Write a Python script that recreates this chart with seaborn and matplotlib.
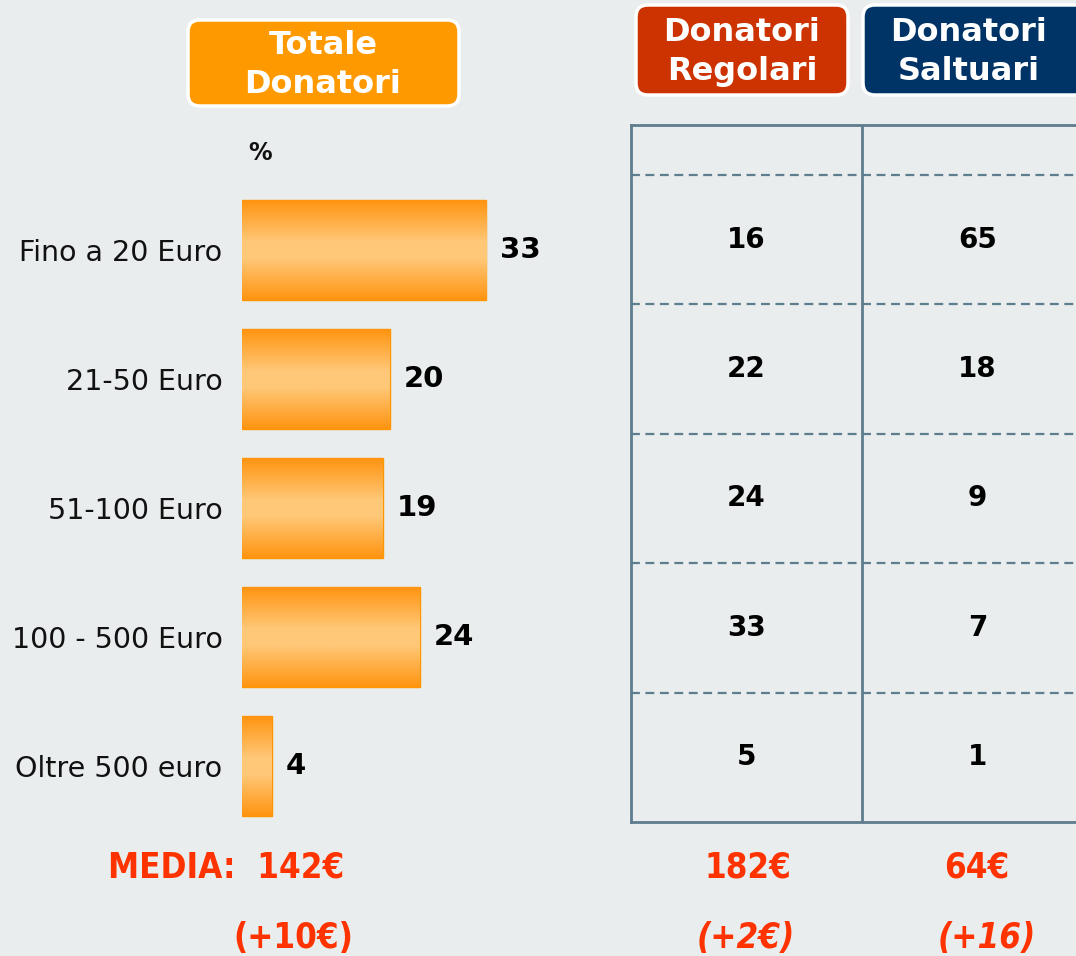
import matplotlib
matplotlib.use("Agg")
import matplotlib.pyplot as plt
import numpy as np
import pandas as pd
import seaborn as sns
from matplotlib.colors import LinearSegmentedColormap, ListedColormap
from matplotlib.patches import FancyBboxPatch

# ---------------- data ----------------
categories = ["Fino a 20 Euro", "21-50 Euro", "51-100 Euro", "100 - 500 Euro", "Oltre 500 euro"]
totale = [33, 20, 19, 24, 4]
regolari = [16, 22, 24, 33, 5]
saltuari = [65, 18, 9, 7, 1]
group_titles = ["Totale\nDonatori", "Donatori\nRegolari", "Donatori\nSaltuari"]
media_labels = ["MEDIA:  142€", "182€", "64€"]
delta_labels = ["(+10€)", "(+2€)", "(+16)"]

# ---------------- style ----------------
BG = "#E9EDED"
LINE = "#5E7D8E"
RED_TXT = "#FF3300"
sns.set_theme(style="white")
plt.rcParams["font.family"] = ["DejaVu Sans"]

W, H = 1076, 956
fig = plt.figure(figsize=(W / 100, H / 100), dpi=100, facecolor=BG)

def fx(px):
    return px / W

def fy(py):
    return 1 - py / H

# overlay axes in pixel coordinates
ov = fig.add_axes([0, 0, 1, 1], zorder=0)
ov.set_xlim(0, W)
ov.set_ylim(H, 0)
ov.axis("off")
ov.patch.set_alpha(0)

# ---------------- bar chart ----------------
px_per_unit = 7.4
ax_left, ax_right = 242, 620
top_c, bot_c = 250, 766
step = (bot_c - top_c) / 4
ax_top, ax_bot = top_c - step / 2, bot_c + step / 2
ax = fig.add_axes([fx(ax_left), fy(ax_bot), fx(ax_right - ax_left), (ax_bot - ax_top) / H], zorder=2)
ax.patch.set_alpha(0)

df = pd.DataFrame({"cat": categories, "val": totale})
sns.barplot(data=df, x="val", y="cat", orient="h", ax=ax, color="#FFB347",
            width=0.775, edgecolor="#FF9500", linewidth=1.0)
xmax = (ax_right - ax_left) / px_per_unit
ax.set_xlim(0, xmax)
ax.set_ylim(4.5, -0.5)

grad_cmap = LinearSegmentedColormap.from_list(
    "g", [(0, "#FF9410"), (0.42, "#FFC878"), (0.58, "#FFC878"), (1, "#FF9410")])
grad = np.linspace(0, 1, 256).reshape(-1, 1)
for p in list(ax.patches):
    x0, y0, w, h = p.get_x(), p.get_y(), p.get_width(), p.get_height()
    im = ax.imshow(grad, cmap=grad_cmap, extent=[x0, x0 + w, y0 + h, y0],
                   aspect="auto", zorder=p.get_zorder() + 0.1, interpolation="bilinear")
    im.set_clip_path(p)
ax.set_xlim(0, xmax)
ax.set_ylim(4.5, -0.5)

ax.bar_label(ax.containers[0], fmt="%d", padding=10, fontsize=21, fontweight="bold", color="black")
ax.set_xlabel("")
ax.set_ylabel("")
ax.set_xticks([])
ax.tick_params(axis="y", length=0, pad=14, labelsize=20.5, labelcolor="#111111")
for s in ax.spines.values():
    s.set_visible(False)

ov.text(260, 153, "%", ha="center", va="center", fontsize=17, fontweight="bold", color="#111111")

# ---------------- table (heatmap) ----------------
t_left, t_top, t_bot = 631, 125, 822
col_w = 862 - 631
head_h = 50
row_h = (t_bot - t_top - head_h) / 5
tab = pd.DataFrame({"Regolari": regolari, "Saltuari": saltuari}, index=categories)
tax = fig.add_axes([fx(t_left), fy(t_bot), fx(2 * col_w), (t_bot - t_top) / H], zorder=2)
sns.heatmap(tab, ax=tax, cmap=ListedColormap([BG]), cbar=False, annot=True, fmt="d",
            annot_kws={"fontsize": 20, "fontweight": "bold", "color": "black"},
            xticklabels=False, yticklabels=False)
tax.set_ylim(5, -head_h / row_h)
tax.set_xlim(0, 2)
tax.patch.set_facecolor(BG)
for y in range(5):
    tax.axhline(y, color=LINE, lw=1.6, ls=(0, (4, 2.5)), zorder=3)
tax.axvline(1, color=LINE, lw=2, zorder=3)
for name in ["left", "top", "bottom"]:
    tax.spines[name].set_visible(True)
    tax.spines[name].set_color(LINE)
    tax.spines[name].set_linewidth(2)
tax.spines["right"].set_visible(False)
tax.set_xlabel("")
tax.set_ylabel("")

# ---------------- header boxes ----------------
boxes = [(188, 20, 271, 86, "#FF9900"), (636, 5, 212, 90, "#CC3300"), (863, 5, 240, 90, "#003366")]
text_cx = [323, 742, 969]
for (bx, by, bw, bh, c), title, cx in zip(boxes, group_titles, text_cx):
    box = FancyBboxPatch((bx, by), bw, bh, boxstyle="round,pad=0,rounding_size=12",
                         facecolor=c, edgecolor="white", linewidth=2.5, zorder=1)
    ov.add_patch(box)
    ov.text(cx, by + bh / 2 + 2, title, ha="center", va="center", fontsize=23,
            fontweight="bold", color="white", linespacing=1.3, zorder=2)

# ---------------- bottom averages ----------------
cond_family = "DejaVu Sans"
media_x = [226, 748, 977]
delta_x = [293, 746, 987]
for m, x in zip(media_labels, media_x):
    ov.text(x, 868, m, ha="center", va="center", fontsize=25, fontweight="bold",
            color=RED_TXT, family=cond_family, fontstretch="condensed")
for i, (d, x) in enumerate(zip(delta_labels, delta_x)):
    ov.text(x, 938, d, ha="center", va="center", fontsize=25, fontweight="bold",
            color=RED_TXT, family=cond_family, fontstretch="condensed",
            style="normal" if i == 0 else "italic")

fig.savefig("out.png", dpi=100, facecolor=BG)
